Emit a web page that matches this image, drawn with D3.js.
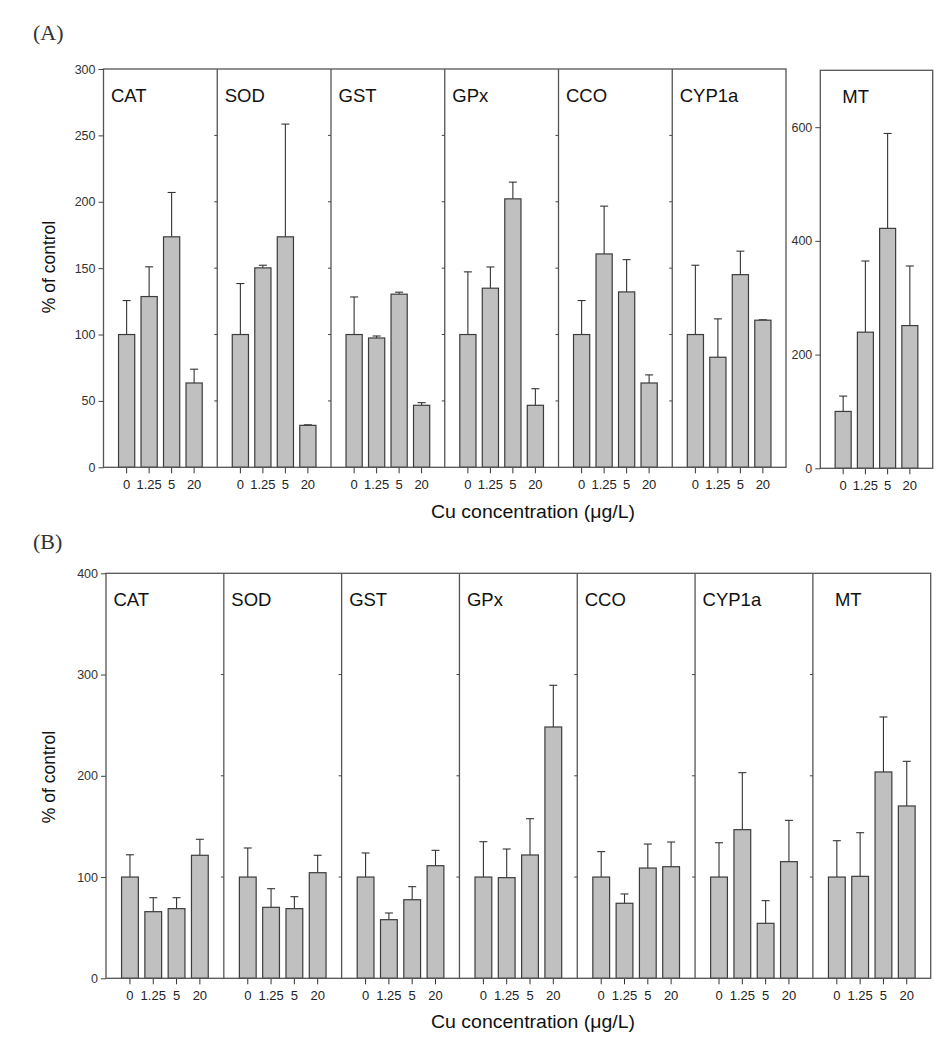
<!DOCTYPE html>
<html><head><meta charset="utf-8">
<script src="https://cdn.jsdelivr.net/npm/d3@7"></script>
<style>
body{margin:0;background:#fff;}
svg text{font-family:Arial,"Liberation Sans",sans-serif;}
</style></head>
<body>
<svg id="chart" width="945" height="1041"></svg>
<script>
// ---------- data ----------
const concentrations = ["0", "1.25", "5", "20"];
const enzymes = ["CAT", "SOD", "GST", "GPx", "CCO", "CYP1a", "MT"];
// Panel (A) means and SE (upper error)
const meanA = [
  [100, 128.6, 173.6, 63.5],
  [100, 150.2, 173.6, 31.6],
  [100, 97.4, 130.4, 46.7],
  [100, 134.9, 202.2, 46.7],
  [100, 160.7, 132.1, 63.5],
  [100, 82.9, 145.1, 110.8],
  [100, 239.4, 422, 251]
];
const errA = [
  [25.6, 22.4, 33.4, 10.4],
  [38.4, 2.0, 84.9, 0.4],
  [28.3, 1.5, 1.5, 2.0],
  [47.2, 16.0, 12.6, 12.5],
  [25.6, 36.0, 24.3, 6.1],
  [52.2, 28.9, 17.7, 0.3],
  [27, 125.2, 166.9, 104.8]
];
// Panel (B)
const meanB = [
  [100, 65.8, 68.8, 121.5],
  [100, 70.1, 68.8, 104.3],
  [100, 57.9, 77.6, 111.2],
  [100, 99.4, 121.8, 248.2],
  [100, 74.1, 108.9, 110.2],
  [100, 146.8, 54.3, 115.2],
  [100, 100.7, 203.8, 170.2]
];
const errB = [
  [22.0, 13.8, 10.8, 15.8],
  [28.7, 18.4, 11.8, 17.2],
  [23.8, 6.6, 12.9, 15.2],
  [34.9, 28.3, 35.8, 41.2],
  [25.1, 9.2, 23.7, 24.4],
  [33.9, 56.3, 22.4, 40.8],
  [35.9, 43.1, 54.3, 44.1]
];
const yTicksA = [0, 50, 100, 150, 200, 250, 300];
const yTicksMT = [0, 200, 400, 600];
const yTicksB = [0, 100, 200, 300, 400];
const yTitle = "% of control";
const xTitle = "Cu concentration (\u03bcg/L)";

// ---------- drawing ----------
const svg = d3.select("#chart");
const FRAME = "#555";
const BAR_FILL = "#c0c0c0";
const BAR_STROKE = "#3c3c3c";
const TEXT = "#222";

function drawPanel(g, x0, w, y, means, errs, name, labelOffset, top, bottom) {
  const x = d3.scaleBand().domain(concentrations).range([x0, x0 + w])
    .paddingInner(0.28).paddingOuter(0.668);
  const bw = x.bandwidth();
  const data = concentrations.map((c, i) => ({c, m: means[i], e: errs[i]}));
  const eb = g.append("g");
  eb.selectAll("line.v").data(data).join("line")
    .attr("x1", d => x(d.c) + bw / 2).attr("x2", d => x(d.c) + bw / 2)
    .attr("y1", d => y(d.m)).attr("y2", d => y(d.m + d.e))
    .attr("stroke", "#333").attr("stroke-width", 1.1);
  eb.selectAll("line.cap").data(data).join("line")
    .attr("x1", d => x(d.c) + bw / 2 - 4).attr("x2", d => x(d.c) + bw / 2 + 4)
    .attr("y1", d => y(d.m + d.e)).attr("y2", d => y(d.m + d.e))
    .attr("stroke", "#333").attr("stroke-width", 1.1);
  g.append("g").selectAll("rect").data(data).join("rect")
    .attr("x", d => x(d.c)).attr("width", bw)
    .attr("y", d => y(d.m)).attr("height", d => y(0) - y(d.m))
    .attr("fill", BAR_FILL).attr("stroke", BAR_STROKE).attr("stroke-width", 1.2);
  const ax = g.append("g").attr("transform", `translate(0,${bottom})`)
    .call(d3.axisBottom(x).tickSize(6).tickPadding(6));
  ax.select(".domain").remove();
  ax.selectAll(".tick line").attr("stroke", "#333");
  ax.selectAll(".tick text").attr("font-size", 13).attr("fill", TEXT)
    .attr("font-family", "Arial, 'Liberation Sans', sans-serif");
  g.append("text").attr("x", x0 + labelOffset).attr("y", top + 33)
    .attr("font-size", 18.5).attr("fill", "#111").text(name);
}

function drawBlock(cfg) {
  const g = svg.append("g");
  const y = d3.scaleLinear().domain(cfg.domain).range([cfg.bottom, cfg.top]);
  const n = cfg.panels.length;
  const w = (cfg.right - cfg.left) / n;
  cfg.panels.forEach((p, i) => {
    const x0 = cfg.left + i * w;
    drawPanel(g, x0, w, y, p.m, p.e, p.name, p.name === "MT" ? 22 : 7.5, cfg.top, cfg.bottom);
    if (i > 0) {
      g.append("line").attr("x1", x0).attr("x2", x0).attr("y1", cfg.top).attr("y2", cfg.bottom)
        .attr("stroke", FRAME).attr("stroke-width", 1.3);
      g.append("g").selectAll("line").data(cfg.ticks.filter(t => t > cfg.domain[0] && t < cfg.domain[1])).join("line")
        .attr("x1", x0 - 3).attr("x2", x0).attr("y1", d => y(d)).attr("y2", d => y(d))
        .attr("stroke", "#444").attr("stroke-width", 1);
    }
  });
  g.append("rect").attr("x", cfg.left).attr("y", cfg.top)
    .attr("width", cfg.right - cfg.left).attr("height", cfg.bottom - cfg.top)
    .attr("fill", "none").attr("stroke", FRAME).attr("stroke-width", 1.3);
  const ay = g.append("g").attr("transform", `translate(${cfg.left},0)`)
    .call(d3.axisLeft(y).tickValues(cfg.ticks).tickSize(5).tickPadding(3));
  ay.select(".domain").remove();
  ay.selectAll(".tick line").attr("stroke", "#444");
  ay.selectAll(".tick text").attr("font-size", 12.5).attr("fill", "#333")
    .attr("font-family", "Arial, 'Liberation Sans', sans-serif");
  return y;
}

// ----- Panel (A) -----
svg.append("text").attr("x", 33).attr("y", 40)
  .attr("font-size", 22).attr("fill", "#333").style("font-family", "'Liberation Serif','DejaVu Serif',serif").text("(A)");
drawBlock({
  left: 103.5, right: 786, top: 69, bottom: 467.3, domain: [0, 300], ticks: yTicksA,
  panels: enzymes.slice(0, 6).map((name, i) => ({name, m: meanA[i], e: errA[i]}))
});
drawBlock({
  left: 820.3, right: 932.7, top: 70.3, bottom: 468.3, domain: [0, 700], ticks: yTicksMT,
  panels: [{name: enzymes[6], m: meanA[6], e: errA[6]}]
});
svg.append("text").attr("transform", "translate(55,267) rotate(-90)")
  .attr("text-anchor", "middle").attr("font-size", 17.5).attr("fill", "#111").text(yTitle);
svg.append("text").attr("x", 533).attr("y", 518).attr("text-anchor", "middle")
  .attr("font-size", 18).attr("fill", "#111").attr("textLength", 204).attr("lengthAdjust", "spacingAndGlyphs").text(xTitle);

// ----- Panel (B) -----
svg.append("text").attr("x", 33).attr("y", 549)
  .attr("font-size", 22).attr("fill", "#333").style("font-family", "'Liberation Serif','DejaVu Serif',serif").text("(B)");
drawBlock({
  left: 106, right: 930.7, top: 573.3, bottom: 978.3, domain: [0, 400], ticks: yTicksB,
  panels: enzymes.map((name, i) => ({name, m: meanB[i], e: errB[i]}))
});
svg.append("text").attr("transform", "translate(55,777) rotate(-90)")
  .attr("text-anchor", "middle").attr("font-size", 17.5).attr("fill", "#111").text(yTitle);
svg.append("text").attr("x", 533).attr("y", 1028).attr("text-anchor", "middle")
  .attr("font-size", 18).attr("fill", "#111").attr("textLength", 204).attr("lengthAdjust", "spacingAndGlyphs").text(xTitle);
</script>
</body></html>
